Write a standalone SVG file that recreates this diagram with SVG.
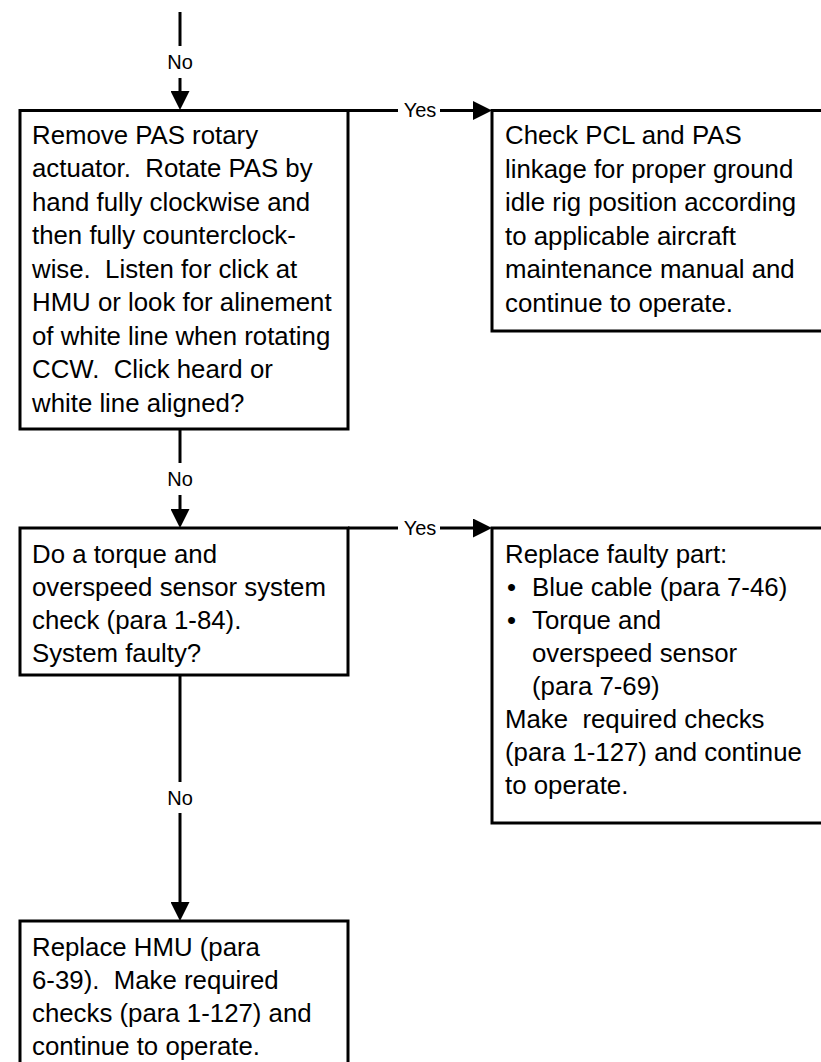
<svg xmlns="http://www.w3.org/2000/svg" width="821" height="1062" viewBox="0 0 821 1062">
  <style>
    .box { fill: #ffffff; stroke: #000000; stroke-width: 3; }
    .txt { font-family: "Liberation Sans", Arial, sans-serif; font-size: 25.8px; fill: #000000; }
    .lbl { font-family: "Liberation Sans", Arial, sans-serif; font-size: 20px; fill: #000000; text-anchor: middle; }
    .wire { fill: none; stroke: #000000; stroke-width: 3; }
  </style>
  <defs>
    <marker id="arrow" markerUnits="userSpaceOnUse" viewBox="0 0 19 19" markerWidth="19" markerHeight="19" refX="0" refY="9.5" orient="auto">
      <path d="M0,0 L19,9.5 L0,19 z" fill="#000000"/>
    </marker>
  </defs>

  <rect width="821" height="1062" fill="#ffffff"/>

  <!-- step 1: rotary actuator check -->
  <g id="node-remove-pas">
    <rect class="box" x="20" y="110.5" width="328" height="318.5"/>
    <text class="txt" x="32" y="143.5">Remove PAS rotary</text>
    <text class="txt" x="32" y="177" xml:space="preserve">actuator.  Rotate PAS by</text>
    <text class="txt" x="32" y="210.5">hand fully clockwise and</text>
    <text class="txt" x="32" y="244">then fully counterclock-</text>
    <text class="txt" x="32" y="277.5" xml:space="preserve">wise.  Listen for click at</text>
    <text class="txt" x="32" y="311">HMU or look for alinement</text>
    <text class="txt" x="32" y="344.5">of white line when rotating</text>
    <text class="txt" x="32" y="378" xml:space="preserve">CCW.  Click heard or</text>
    <text class="txt" x="32" y="411.5">white line aligned?</text>
  </g>

  <!-- linkage rig check -->
  <g id="node-check-pcl">
    <rect class="box" x="492" y="110.5" width="340" height="220.5"/>
    <text class="txt" x="505" y="144">Check PCL and PAS</text>
    <text class="txt" x="505" y="177.5">linkage for proper ground</text>
    <text class="txt" x="505" y="211">idle rig position according</text>
    <text class="txt" x="505" y="244.5">to applicable aircraft</text>
    <text class="txt" x="505" y="278">maintenance manual and</text>
    <text class="txt" x="505" y="311.5">continue to operate.</text>
  </g>

  <!-- step 2: sensor system check -->
  <g id="node-sensor-check">
    <rect class="box" x="20" y="528" width="328" height="147"/>
    <text class="txt" x="32" y="563">Do a torque and</text>
    <text class="txt" x="32" y="596">overspeed sensor system</text>
    <text class="txt" x="32" y="629">check (para 1-84).</text>
    <text class="txt" x="32" y="662">System faulty?</text>
  </g>

  <!-- faulty part replacement -->
  <g id="node-replace-part">
    <rect class="box" x="492" y="528" width="340" height="295"/>
    <text class="txt" x="505" y="563">Replace faulty part:</text>
    <text class="txt" x="507" y="596">•</text>
    <text class="txt" x="532" y="596">Blue cable (para 7-46)</text>
    <text class="txt" x="507" y="629">•</text>
    <text class="txt" x="532" y="629">Torque and</text>
    <text class="txt" x="532" y="662">overspeed sensor</text>
    <text class="txt" x="532" y="695">(para 7-69)</text>
    <text class="txt" x="505" y="728" xml:space="preserve">Make  required checks</text>
    <text class="txt" x="505" y="761">(para 1-127) and continue</text>
    <text class="txt" x="505" y="794">to operate.</text>
  </g>

  <!-- HMU replacement -->
  <g id="node-replace-hmu">
    <rect class="box" x="20" y="921" width="328" height="160"/>
    <text class="txt" x="32" y="956">Replace HMU (para</text>
    <text class="txt" x="32" y="989" xml:space="preserve">6-39).  Make required</text>
    <text class="txt" x="32" y="1022">checks (para 1-127) and</text>
    <text class="txt" x="32" y="1055">continue to operate.</text>
  </g>

  <g id="connectors">
    <!-- incoming No -->
    <path class="wire" d="M180,12 V46"/>
    <path class="wire" d="M180,78 V91" marker-end="url(#arrow)"/>
    <text class="lbl" x="180" y="69">No</text>

    <!-- step 1 Yes -->
    <path class="wire" d="M348,110.5 H398"/>
    <path class="wire" d="M440,110.5 H473" marker-end="url(#arrow)"/>
    <text class="lbl" x="420" y="117">Yes</text>

    <!-- step 1 No -->
    <path class="wire" d="M180,429 V463"/>
    <path class="wire" d="M180,495 V509" marker-end="url(#arrow)"/>
    <text class="lbl" x="180" y="486">No</text>

    <!-- step 2 Yes -->
    <path class="wire" d="M348,528 H398"/>
    <path class="wire" d="M440,528 H473" marker-end="url(#arrow)"/>
    <text class="lbl" x="420" y="535">Yes</text>

    <!-- step 2 No -->
    <path class="wire" d="M180,675 V782"/>
    <path class="wire" d="M180,813 V902" marker-end="url(#arrow)"/>
    <text class="lbl" x="180" y="805">No</text>
  </g>
</svg>
